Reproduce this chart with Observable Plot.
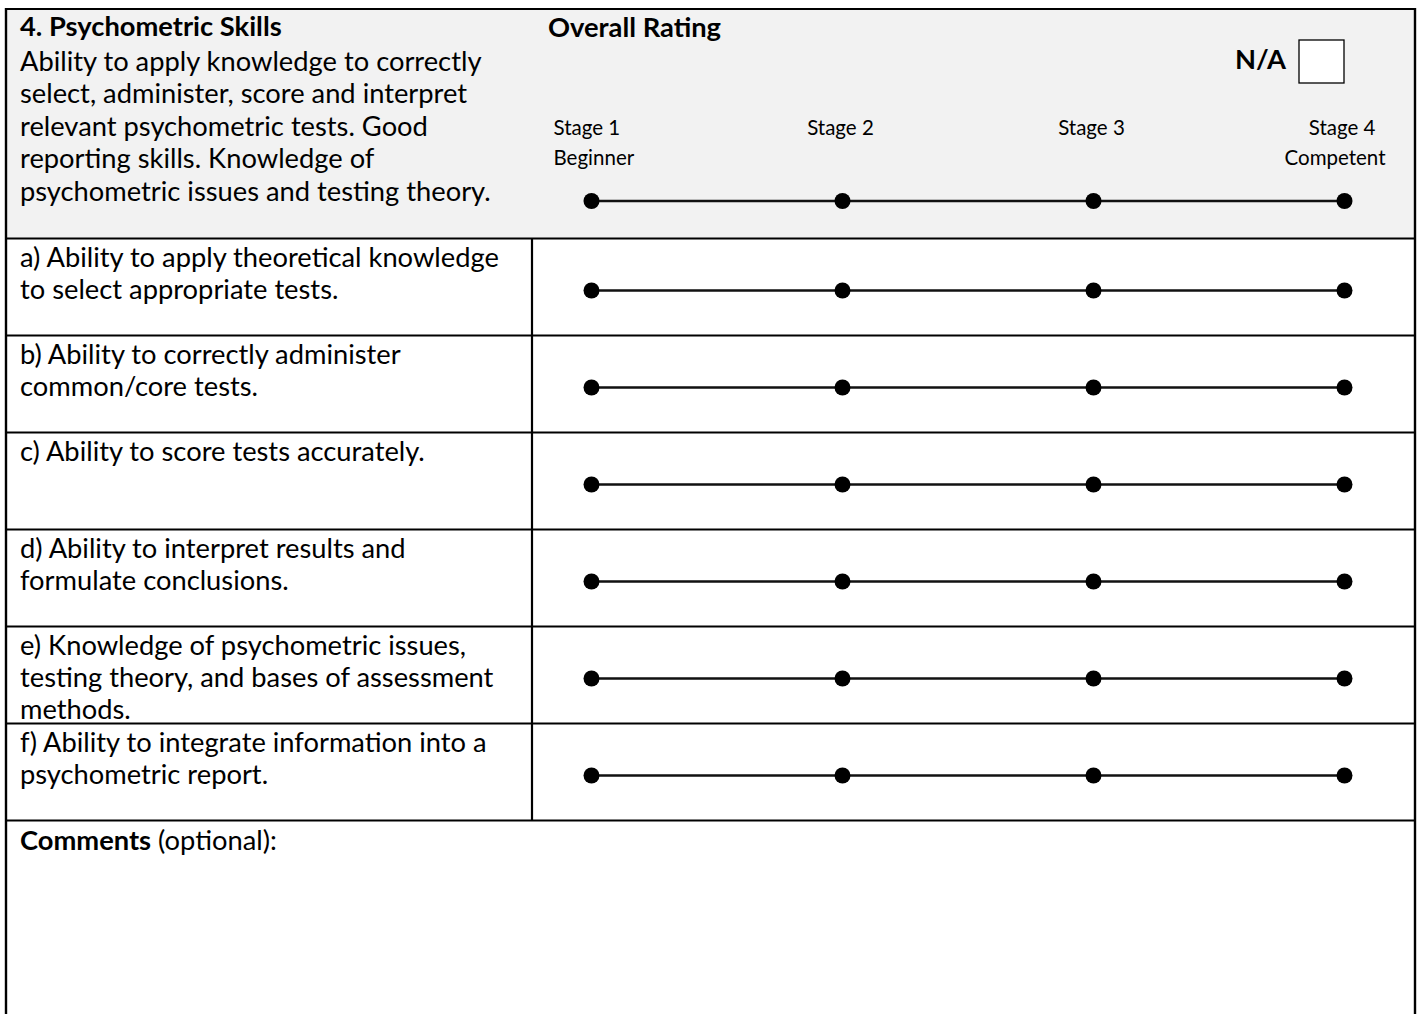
<!DOCTYPE html>
<html>
<head>
<meta charset="utf-8">
<script src="https://cdn.jsdelivr.net/npm/d3@7"></script>
<script src="https://cdn.jsdelivr.net/npm/@observablehq/plot@0.6"></script>
<style>
  html, body { margin: 0; padding: 0; background: #ffffff; }
  #chart svg { display: block; }
</style>
</head>
<body>
<div id="chart"></div>
<script>
// ---------- data ----------
const stages = ["Stage 1", "Stage 2", "Stage 3", "Stage 4"];
const stageSubtitles = ["Beginner", "", "", "Competent"];
const itemKeys = ["a", "b", "c", "d", "e", "f"];
const itemLines = [
  ["a) Ability to apply theoretical knowledge", "to select appropriate tests."],
  ["b) Ability to correctly administer", "common/core tests."],
  ["c) Ability to score tests accurately."],
  ["d) Ability to interpret results and", "formulate conclusions."],
  ["e) Knowledge of psychometric issues,", "testing theory, and bases of assessment", "methods."],
  ["f) Ability to integrate information into a", "psychometric report."]
];
const sectionTitle = "4. Psychometric Skills";
const sectionLines = [
  "Ability to apply knowledge to correctly",
  "select, administer, score and interpret",
  "relevant psychometric tests. Good",
  "reporting skills. Knowledge of",
  "psychometric issues and testing theory."
];
const ratingTitle = "Overall Rating";
const naLabel = "N/A";
const commentsBold = "Comments";
const commentsRest = " (optional):";

// table built from the arrays
const cells = itemKeys.flatMap(k => stages.map(s => ({item: k, stage: s})));
const stageLabels = stages.map((s, i) => ({stage: s, sub: stageSubtitles[i], i}));

// ---------- layout ----------
const W = 1418, H = 1014;
const FONT = "Lato, 'Open Sans', sans-serif";
const BODY = 27.3, SMALL = 20.5;
const LEFT = 6, RIGHT = 1415, TOP = 9, DIVX = 532, TX = 20;

function findScales(args) {
  return args.find(a => a && typeof a.y === "function" && typeof a.x === "function");
}

function tableMark(...args) {
  const sc = findScales(args);
  const y = sc.y;
  const step = y(itemKeys[1]) - y(itemKeys[0]);
  const headBottom = y(itemKeys[0]) - step / 2;
  const lastBottom = y(itemKeys[itemKeys.length - 1]) + step / 2;
  const g = d3.create("svg:g");
  g.append("rect").attr("x", LEFT).attr("y", TOP).attr("width", RIGHT - LEFT).attr("height", headBottom - TOP).attr("fill", "#f2f2f2");
  const hl = [TOP, headBottom, ...itemKeys.map(k => y(k) + step / 2)];
  g.selectAll("line.h").data(hl).join("line")
    .attr("x1", LEFT).attr("x2", RIGHT).attr("y1", d => d).attr("y2", d => d)
    .attr("stroke", "#000").attr("stroke-width", 2.2);
  g.append("line").attr("x1", DIVX).attr("x2", DIVX).attr("y1", headBottom).attr("y2", lastBottom).attr("stroke", "#000").attr("stroke-width", 2.2);
  for (const xx of [LEFT, RIGHT]) {
    g.append("line").attr("x1", xx).attr("x2", xx).attr("y1", TOP - 1).attr("y2", H).attr("stroke", "#000").attr("stroke-width", 2.4);
  }
  // N/A box
  g.append("rect").attr("x", 1299).attr("y", 40).attr("width", 45).attr("height", 43)
    .attr("fill", "#fff").attr("stroke", "#000").attr("stroke-width", 1.3);
  return g.node();
}

function textMark(...args) {
  const sc = findScales(args);
  const y = sc.y;
  const step = y(itemKeys[1]) - y(itemKeys[0]);
  const g = d3.create("svg:g").attr("font-family", FONT).attr("fill", "#000").attr("text-anchor", "start");
  const LH = 32.6;
  // section header
  g.append("text").attr("x", TX).attr("y", 36).attr("font-size", BODY).attr("font-weight", "bold").text(sectionTitle);
  sectionLines.forEach((t, i) => {
    g.append("text").attr("x", TX).attr("y", 38 + LH * (i + 1)).attr("font-size", BODY).text(t);
  });
  g.append("text").attr("x", 548).attr("y", 37).attr("font-size", BODY).attr("font-weight", "bold").text(ratingTitle);
  g.append("text").attr("x", 1286).attr("y", 69).attr("font-size", BODY).attr("font-weight", "bold").attr("text-anchor", "end").text(naLabel);
  // items
  itemKeys.forEach((k, i) => {
    const top = y(k) - step / 2;
    itemLines[i].forEach((t, j) => {
      g.append("text").attr("x", TX).attr("y", top + 28 + 32 * j).attr("font-size", BODY).text(t);
    });
  });
  // comments
  const lastBottom = y(itemKeys[itemKeys.length - 1]) + step / 2;
  const ct = g.append("text").attr("x", TX).attr("y", lastBottom + 29).attr("font-size", BODY);
  ct.append("tspan").attr("font-weight", "bold").text(commentsBold);
  ct.append("tspan").text(commentsRest);
  return g.node();
}

const DOT_DY = 3;
const HEAD_DY = -86.5;

const chart = Plot.plot({
  width: W,
  height: H,
  margin: 0,
  style: {background: "#ffffff", fontFamily: FONT},
  x: {type: "point", domain: stages, range: [590, 1345], padding: 0, axis: null},
  y: {type: "point", domain: itemKeys, range: [286, 773], padding: 0, axis: null},
  marks: [
    tableMark,
    // item rating scales
    Plot.line(cells, {x: "stage", y: "item", z: "item", stroke: "#111", strokeWidth: 2.3, dy: DOT_DY}),
    Plot.dot(cells, {x: "stage", y: "item", r: 8, fill: "#000", stroke: null, dy: DOT_DY}),
    // overall rating scale
    Plot.line(stages, {x: d => d, y: () => itemKeys[0], stroke: "#111", strokeWidth: 2.3, dy: HEAD_DY}),
    Plot.dot(stages, {x: d => d, y: () => itemKeys[0], r: 8, fill: "#000", stroke: null, dy: HEAD_DY}),
    // stage labels
    Plot.text(stageLabels.filter(d => d.i === 0), {x: "stage", y: () => itemKeys[0], text: "stage", textAnchor: "start", lineAnchor: "bottom", dx: -38, dy: -153, fontSize: SMALL, fill: "#000"}),
    Plot.text(stageLabels.filter(d => d.i === 0), {x: "stage", y: () => itemKeys[0], text: "sub", textAnchor: "start", lineAnchor: "bottom", dx: -38, dy: -123, fontSize: SMALL, fill: "#000"}),
    Plot.text(stageLabels.filter(d => d.i === 1 || d.i === 2), {x: "stage", y: () => itemKeys[0], text: "stage", textAnchor: "middle", lineAnchor: "bottom", dx: -2, dy: -153, fontSize: SMALL, fill: "#000"}),
    Plot.text(stageLabels.filter(d => d.i === 3), {x: "stage", y: () => itemKeys[0], text: "stage", textAnchor: "end", lineAnchor: "bottom", dx: 31, dy: -153, fontSize: SMALL, fill: "#000"}),
    Plot.text(stageLabels.filter(d => d.i === 3), {x: "stage", y: () => itemKeys[0], text: "sub", textAnchor: "end", lineAnchor: "bottom", dx: 41, dy: -123, fontSize: SMALL, fill: "#000"}),
    textMark
  ]
});

document.getElementById("chart").appendChild(chart);
</script>
</body>
</html>
